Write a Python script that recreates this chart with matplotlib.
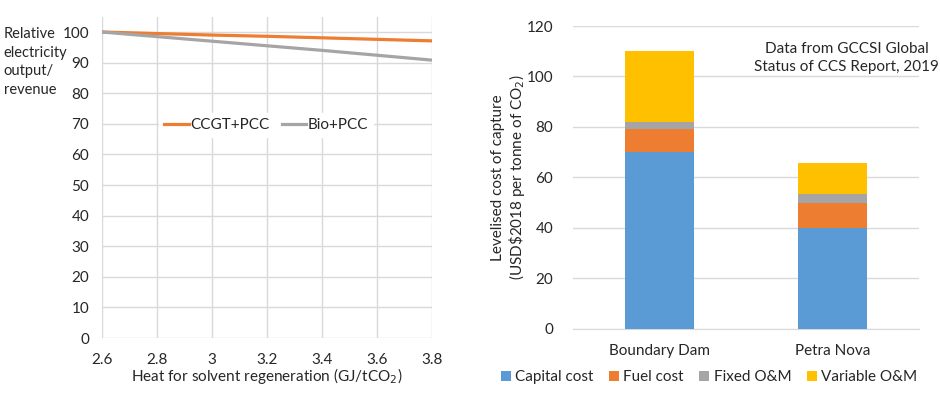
import matplotlib.pyplot as plt
import numpy as np

plt.rcParams['font.family'] = ['Lato', 'DejaVu Sans']

# left panel: relative output vs regeneration heat
heat = [2.6, 2.8, 3.0, 3.2, 3.4, 3.6, 3.8]
ccgt_pcc = [100, 99.5, 99.0, 98.6, 98.1, 97.6, 97.1]
bio_pcc = [100, 98.5, 97.0, 95.5, 94.0, 92.4, 90.8]
ylabel_lines = ['Relative', 'electricity', 'output/', 'revenue']

# right panel: levelised cost of capture
plants = ['Boundary Dam', 'Petra Nova']
capital_cost = [70, 40]
fuel_cost = [9, 10]
fixed_om = [3, 3.3]
variable_om = [28.2, 12.3]

ORANGE = '#ED7D31'
GREY = '#A5A5A5'
BLUE = '#5B9BD5'
YELLOW = '#FFC000'
GRID = '#D9D9D9'
TXT = '#262626'

fig = plt.figure(figsize=(9.4, 3.93), dpi=100)

# ---- left
ax1 = fig.add_axes([0.1082, 0.1399, 0.3517, 0.8176])
ax1.plot(heat, ccgt_pcc, color=ORANGE, lw=2.3, label='CCGT+PCC', zorder=3)
ax1.plot(heat, bio_pcc, color=GREY, lw=2.3, label='Bio+PCC', zorder=3)
ax1.set_xlim(2.6, 3.8)
ax1.set_ylim(0, 105)
ax1.set_xticks(heat)
ax1.set_xticklabels(['2.6', '2.8', '3', '3.2', '3.4', '3.6', '3.8'])
ax1.set_yticks(range(0, 101, 10))
ax1.grid(True, color=GRID, lw=1)
ax1.set_axisbelow(True)
for s in ax1.spines.values():
    s.set_visible(False)
ax1.tick_params(length=0, labelsize=11, colors=TXT)
ax1.tick_params(axis='x', pad=11)
ax1.tick_params(axis='y', pad=9)
ax1.set_xlabel('Heat for solvent regeneration (GJ/tCO$_2$)', fontsize=11, color=TXT, labelpad=-1)
# horizontal y label, one text per line like the original
for i, line in enumerate(ylabel_lines):
    fig.text(0.004, 1 - (34 + 18.7 * i) / 393, line, fontsize=10.5, color=TXT,
             va='center', ha='left')
leg = ax1.legend(loc='center', bbox_to_anchor=(0.497, 0.663), ncol=2, frameon=True,
                 fontsize=11, handlelength=1.6, handletextpad=0.1, columnspacing=0.8,
                 borderpad=0.3)
leg.get_frame().set_facecolor('white')
leg.get_frame().set_edgecolor('white')
leg.get_frame().set_alpha(1)
for t in leg.get_texts():
    t.set_color(TXT)

# ---- right
ax2 = fig.add_axes([0.6093, 0.1636, 0.3687, 0.7702])
x = np.arange(len(plants))
w = 0.4
b1 = ax2.bar(x, capital_cost, w, color=BLUE, label='Capital cost', zorder=3)
bottom = np.array(capital_cost, dtype=float)
b2 = ax2.bar(x, fuel_cost, w, bottom=bottom, color=ORANGE, label='Fuel cost', zorder=3)
bottom += fuel_cost
b3 = ax2.bar(x, fixed_om, w, bottom=bottom, color=GREY, label='Fixed O&M', zorder=3)
bottom += fixed_om
b4 = ax2.bar(x, variable_om, w, bottom=bottom, color=YELLOW, label='Variable O&M', zorder=3)
ax2.set_xlim(-0.5, 1.5)
ax2.set_ylim(0, 120)
ax2.set_yticks(range(0, 121, 20))
ax2.set_xticks(x)
ax2.set_xticklabels(plants)
ax2.yaxis.grid(True, color=GRID, lw=1)
ax2.set_axisbelow(True)
for s in ['top', 'right', 'left']:
    ax2.spines[s].set_visible(False)
ax2.spines['bottom'].set_color(GRID)
ax2.tick_params(length=0, labelsize=11, colors=TXT, pad=11)
ax2.tick_params(axis='y', pad=14)
ax2.set_ylabel('Levelised cost of capture\n(USD\\$2018 per tonne of CO$_2$)', fontsize=11,
               color=TXT, labelpad=0, linespacing=1.1)
ax2.text(0.79, 0.895, 'Data from GCCSI Global\nStatus of CCS Report, 2019', transform=ax2.transAxes,
         ha='center', va='center', fontsize=11, color=TXT, linespacing=1.35)
fig.legend(handles=[b1, b2, b3, b4], loc='center', bbox_to_anchor=(709 / 940, 1 - 377 / 393),
           ncol=4, frameon=False, fontsize=11, handlelength=0.65, handleheight=0.65,
           handletextpad=0.3, columnspacing=1.0, labelcolor=TXT)

fig.savefig('out.png', dpi=100)
